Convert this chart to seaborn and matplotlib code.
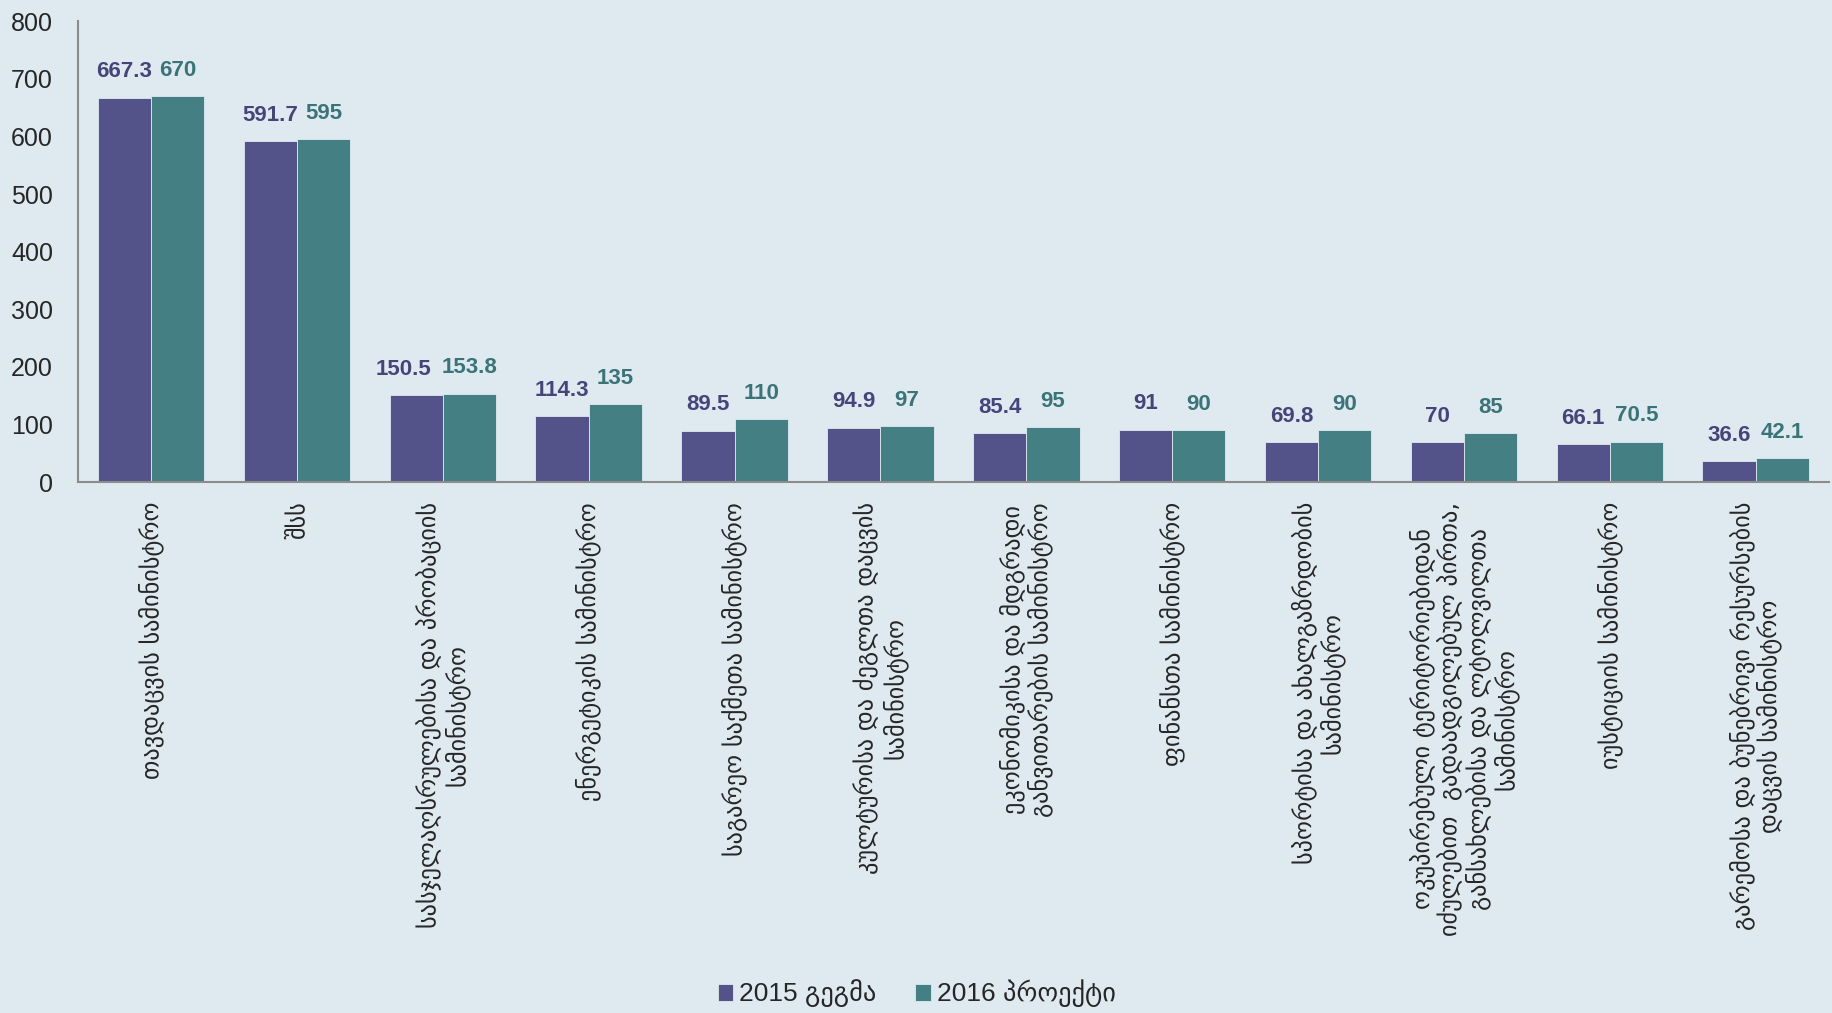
import matplotlib
matplotlib.use('Agg')
import matplotlib.pyplot as plt
import seaborn as sns
import pandas as pd

# Ministries (x axis) and budget values
ministries = [
    'თავდაცვის სამინისტრო',
    'შსს',
    'სასჯელაღსრულებისა და პრობაციის\nსამინისტრო',
    'ენერგეტიკის სამინისტრო',
    'საგარეო საქმეთა სამინისტრო',
    'კულტურისა და ძეგლთა დაცვის\nსამინისტრო',
    'ეკონომიკისა და მდგრადი\nგანვითარების სამინისტრო',
    'ფინანსთა სამინისტრო',
    'სპორტისა და ახალგაზრდობის\nსამინისტრო',
    'ოკუპირებული ტერიტორიებიდან\nიძულებით  გადაადგილებულ პირთა,\nგანსახლებისა და ლტოლვილთა\nსამინისტრო',
    'იუსტიციის სამინისტრო',
    'გარემოსა და ბუნებრივი რესურსების\nდაცვის სამინისტრო',
]
plan_2015 = [667.3, 591.7, 150.5, 114.3, 89.5, 94.9, 85.4, 91, 69.8, 70, 66.1, 36.6]
proj_2016 = [670, 595, 153.8, 135, 110, 97, 95, 90, 90, 85, 70.5, 42.1]
series_names = ['2015 გეგმა', '2016 პროექტი']

df = pd.DataFrame({
    'ministry': ministries * 2,
    'value': plan_2015 + proj_2016,
    'series': [series_names[0]] * len(ministries) + [series_names[1]] * len(ministries),
})

bg = '#DFE9F0'
colors = ['#535389', '#447F84']
label_colors = ['#45457A', '#3A7378']

sns.set_style('white')
plt.rcParams['font.family'] = ['Liberation Sans', 'DejaVu Sans']

fig = plt.figure(figsize=(18.33, 10.13), dpi=100, facecolor=bg)
ax = fig.add_axes([0.0426, 0.524, 0.955, 0.455])
ax.set_facecolor(bg)

sns.barplot(data=df, x='ministry', y='value', hue='series', order=ministries,
            hue_order=series_names, palette=colors, width=0.73, gap=0,
            edgecolor='#DFE9F0', linewidth=0.6, saturation=1, ax=ax)

all_labels = []
for cont, col in zip(ax.containers, label_colors):
    texts = ax.bar_label(cont, labels=[f'{v:g}' for v in cont.datavalues], padding=11,
                         fontsize=16, fontweight='bold', color=col)
    all_labels.append(texts)

# nudge the left label apart where both labels in a group are long
for t15, t16 in zip(*all_labels):
    if len(t15.get_text()) >= 5 and len(t16.get_text()) >= 5:
        t15.xyann = (-9, 11)

ax.set_ylim(0, 800)
ax.set_yticks(range(0, 801, 100))
ax.set_xlim(-0.5, len(ministries) - 0.5)
ax.set_xlabel('')
ax.set_ylabel('')
for s in ['top', 'right']:
    ax.spines[s].set_visible(False)
for s in ['left', 'bottom']:
    ax.spines[s].set_color('#8C8C8C')
    ax.spines[s].set_linewidth(1.5)
ax.tick_params(axis='y', length=0, pad=18, labelsize=18)
ax.tick_params(axis='x', length=0, pad=14)
ax.set_xticks(range(len(ministries)))
ax.set_xticklabels(ministries, rotation=90, ha='center', va='top',
                   fontsize=17.5, family='DejaVu Sans', multialignment='center',
                   linespacing=1.1)

ax.legend(loc='lower center', bbox_to_anchor=(0.5, -0.018), bbox_transform=fig.transFigure,
          ncol=2, frameon=False, fontsize=19, handlelength=0.6, handleheight=0.6,
          handletextpad=0.2, columnspacing=1.5)

fig.savefig('out.png', dpi=100, facecolor=bg)
